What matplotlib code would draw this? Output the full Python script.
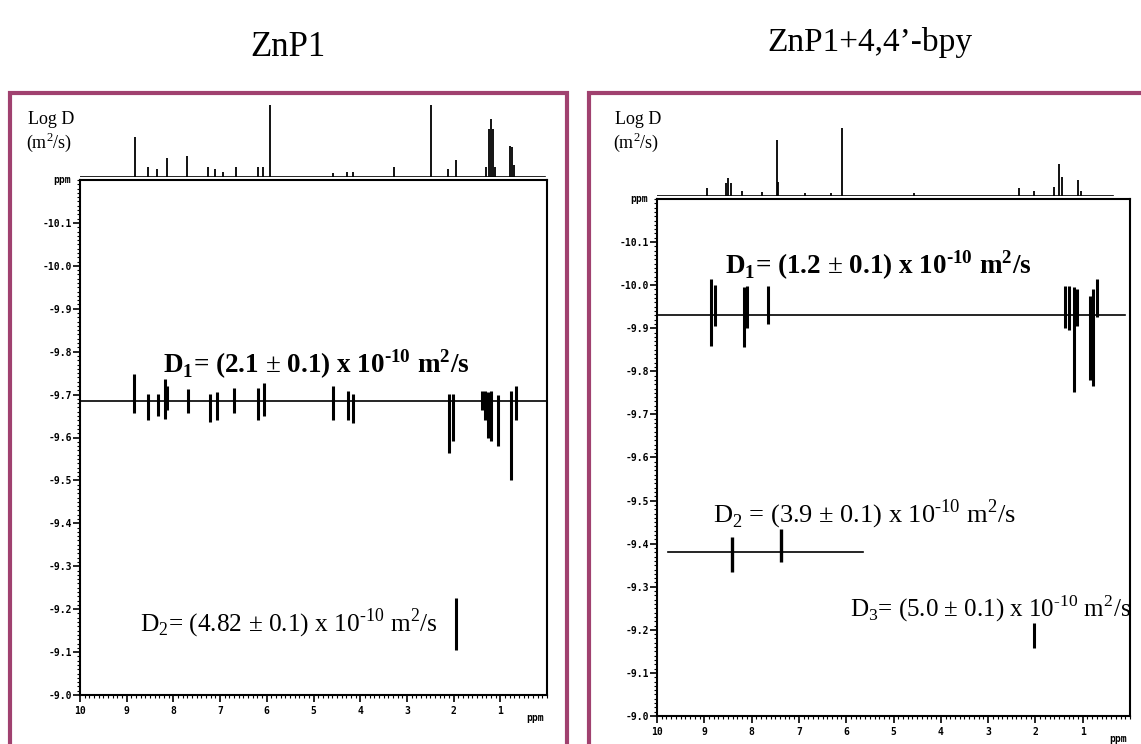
import matplotlib.pyplot as plt
from matplotlib.patches import Rectangle
from matplotlib.ticker import MultipleLocator

plt.rcParams['font.family'] = ['Liberation Serif', 'DejaVu Serif']
plt.rcParams['mathtext.fontset'] = 'custom'
plt.rcParams['mathtext.rm'] = 'Liberation Serif'
plt.rcParams['mathtext.bf'] = 'Liberation Serif:bold'

# axis ticks (log D and ppm)
ytick_vals = [-9.0, -9.1, -9.2, -9.3, -9.4, -9.5, -9.6, -9.7, -9.8, -9.9, -10.0, -10.1]
ytick_labels = ["-9.0", "-9.1", "-9.2", "-9.3", "-9.4", "-9.5", "-9.6", "-9.7",
                "-9.8", "-9.9", "-10.0", "-10.1"]
xtick_vals = [10, 9, 8, 7, 6, 5, 4, 3, 2, 1]

# ZnP1: 1D projection (ppm, relative height)
znp1_ppm = [8.83, 8.54, 8.35, 8.13, 7.70, 7.25, 7.10, 6.93, 6.67, 6.18, 6.09, 5.94,
            4.59, 4.29, 4.16, 3.28, 2.49, 2.12, 1.95, 1.31, 1.25, 1.20, 1.15, 1.11,
            0.79, 0.74, 0.71]
znp1_int = [40, 10, 8, 19, 21, 10, 8, 5, 10, 10, 10, 72,
            4, 5, 5, 10, 72, 8, 17, 10, 48, 58, 48, 10,
            31, 30, 12]

# ZnP1: DOSY cross peaks (ppm, log D top, log D bottom)
znp1_pk_ppm = [8.84, 8.54, 8.33, 8.18, 8.13, 7.68, 7.21, 7.06, 6.70, 6.18, 6.07,
               4.59, 4.27, 4.16, 2.10, 2.02, 1.40, 1.33, 1.26, 1.20, 1.05, 0.77, 0.67]
znp1_pk_top = [-9.749, -9.702, -9.702, -9.737, -9.721, -9.714, -9.702, -9.705, -9.716,
               -9.716, -9.728, -9.721, -9.709, -9.702, -9.702, -9.702, -9.709, -9.709,
               -9.705, -9.709, -9.698, -9.709, -9.721]
znp1_pk_bot = [-9.656, -9.640, -9.651, -9.644, -9.663, -9.656, -9.635, -9.640, -9.656,
               -9.640, -9.651, -9.640, -9.640, -9.633, -9.563, -9.593, -9.663, -9.640,
               -9.600, -9.593, -9.581, -9.500, -9.640]
znp1_d1 = -9.686
znp1_d2_pk = (1.95, -9.226, -9.105)

# ZnP1 + 4,4'-bpy: 1D projection
bpy_ppm = [8.94, 8.55, 8.49, 8.43, 8.20, 7.77, 7.47, 7.45, 6.88, 6.33, 6.09,
           4.56, 2.34, 2.02, 1.61, 1.51, 1.44, 1.10, 1.04]
bpy_int = [8, 14, 19, 14, 5, 4, 59, 15, 3, 3, 72,
           3, 8, 5, 10, 34, 20, 17, 5]

# ZnP1 + 4,4'-bpy: DOSY cross peaks
bpy_pk_ppm = [8.85, 8.77, 8.17, 8.09, 7.66, 1.38, 1.30, 1.19, 1.13, 0.85, 0.79, 0.70]
bpy_pk_top = [-10.014, -10.000, -9.995, -9.998, -9.998, -9.998, -9.998, -9.995,
              -9.990, -9.975, -9.990, -10.014]
bpy_pk_bot = [-9.858, -9.905, -9.856, -9.900, -9.909, -9.900, -9.895, -9.751,
              -9.905, -9.781, -9.765, -9.926]
bpy_d1 = -9.930
bpy_d2 = -9.381
bpy_d2_span = (9.77, 5.65)
bpy_d2_pk_ppm = [8.41, 7.37]
bpy_d2_pk_top = [-9.416, -9.433]
bpy_d2_pk_bot = [-9.335, -9.358]
bpy_d3_pk = (2.04, -9.216, -9.158)

W, H = 1141, 744
fig = plt.figure(figsize=(W / 100, H / 100), dpi=100)
frame_col = "#a0416f"
HY = "\u2010"  # plain hyphen, so mathtext keeps it short like the original


def box(x0, y0, x1, y1):
    # pixel box -> figure fraction
    return [x0 / W, 1 - y1 / H, (x1 - x0) / W, (y1 - y0) / H]


def dosy_axes(rect):
    ax = fig.add_axes(rect)
    ax.set_xlim(10, 0)
    ax.set_ylim(-9.0, -10.2)
    ax.set_yticks(ytick_vals)
    ax.set_yticklabels(ytick_labels)
    ax.set_xticks(xtick_vals)
    ax.yaxis.set_minor_locator(MultipleLocator(0.01))
    ax.xaxis.set_minor_locator(MultipleLocator(0.1))
    ax.tick_params(which="major", direction="out", length=5, width=1.2, pad=1)
    ax.tick_params(which="minor", direction="out", length=2.5, width=0.8)
    ax.tick_params(axis="x", pad=3)
    for lab in ax.get_xticklabels() + ax.get_yticklabels():
        lab.set_fontfamily("DejaVu Sans Mono")
        lab.set_fontweight("bold")
        lab.set_fontsize(7)
    for s in ax.spines.values():
        s.set_linewidth(1.5)
    ax.text(-0.02, 1.0, "ppm", transform=ax.transAxes, ha="right", va="center",
            fontsize=7, fontweight="bold", family="DejaVu Sans Mono")
    ax.text(0.975, -0.035, "ppm", transform=ax.transAxes, ha="center", va="top",
            fontsize=7, fontweight="bold", family="DejaVu Sans Mono")
    return ax


def proj_axes(rect, ppm, inten, x_end):
    ax = fig.add_axes(rect)
    ax.set_xlim(10, 0)
    ax.set_ylim(0, 80)
    ax.axis("off")
    ax.plot([10, x_end], [0, 0], color="black", lw=1.2)
    ax.vlines(ppm, 0, inten, color="black", lw=1.3)
    return ax


# ---------------- left panel: ZnP1 ----------------
fig.add_artist(Rectangle((10 / W, -0.05), 557 / W, 1 - 93 / H + 0.05,
                         transform=fig.transFigure, fill=False,
                         edgecolor=frame_col, lw=3))
fig.text(288 / W, 1 - 47 / H, "ZnP1", ha="center", va="center", fontsize=25)

proj_axes(box(80, 97, 547, 177), znp1_ppm, znp1_int, 0.05)
fig.text(28 / W, 1 - 120 / H, "Log D", fontsize=13, va="center")
fig.text(26 / W, 1 - 142 / H, "(m$^{2}$/s)", fontsize=13, va="center")

ax1 = dosy_axes(box(80, 180, 547, 695))
ax1.axhline(znp1_d1, color="black", lw=1.2)
ax1.vlines(znp1_pk_ppm, znp1_pk_top, znp1_pk_bot, color="black", lw=2.2)
ax1.vlines(znp1_d2_pk[0], znp1_d2_pk[1], znp1_d2_pk[2], color="black", lw=2.2)
ax1.text(8.22, -9.751,
         r"D$_\mathbf{1}$= (2.1 $\pm$ 0.1) x 10$^\mathbf{" + HY + r"10}$ m$^\mathbf{2}$/s",
         fontsize=19.5, fontweight="bold", ha="left", va="baseline")
ax1.text(8.71, -9.147, r"D$_{2}$= (4.82 $\pm$ 0.1) x 10$^{" + HY + r"10}$ m$^{2}$/s",
         fontsize=18.3, ha="left", va="baseline")

# ---------------- right panel: ZnP1 + 4,4'-bpy ----------------
fig.add_artist(Rectangle((589 / W, -0.05), 0.6, 1 - 93 / H + 0.05,
                         transform=fig.transFigure, fill=False,
                         edgecolor=frame_col, lw=3))
fig.text(870 / W, 1 - 42 / H, "ZnP1+4,4’-bpy", ha="center", va="center", fontsize=24)

proj_axes(box(657, 120, 1130, 196), bpy_ppm, bpy_int, 0.35)
fig.text(615 / W, 1 - 120 / H, "Log D", fontsize=13, va="center")
fig.text(613 / W, 1 - 142 / H, "(m$^{2}$/s)", fontsize=13, va="center")

ax2 = dosy_axes(box(657, 199, 1130, 716))
ax2.plot([10, 0.1], [bpy_d1, bpy_d1], color="black", lw=1.2)
ax2.vlines(bpy_pk_ppm, bpy_pk_top, bpy_pk_bot, color="black", lw=2.2)
ax2.plot(bpy_d2_span, [bpy_d2, bpy_d2], color="black", lw=1.2)
ax2.vlines(bpy_d2_pk_ppm, bpy_d2_pk_top, bpy_d2_pk_bot, color="black", lw=2.4)
ax2.vlines(bpy_d3_pk[0], bpy_d3_pk[1], bpy_d3_pk[2], color="black", lw=2.2)
ax2.text(8.56, -10.026,
         r"D$_\mathbf{1}$= (1.2 $\pm$ 0.1) x 10$^\mathbf{" + HY + r"10}$ m$^\mathbf{2}$/s",
         fontsize=19.5, fontweight="bold", ha="left", va="baseline")
ax2.text(8.81, -9.449, r"D$_{2}$ = (3.9 $\pm$ 0.1) x 10$^{" + HY + r"10}$ m$^{2}$/s",
         fontsize=19, ha="left", va="baseline")
ax2.text(5.92, -9.230, r"D$_{3}$= (5.0 $\pm$ 0.1) x 10$^{" + HY + r"10}$ m$^{2}$/s",
         fontsize=18, ha="left", va="baseline")

fig.savefig("out.png", dpi=100)
